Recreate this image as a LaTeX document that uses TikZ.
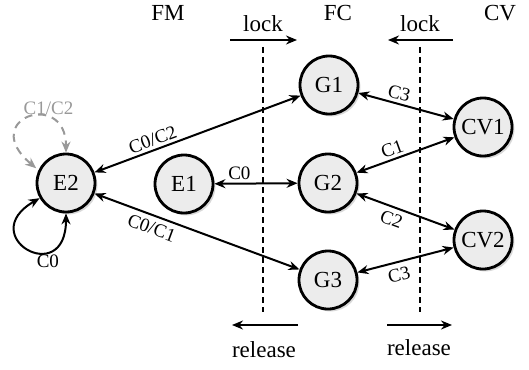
\documentclass[tikz,border=0pt]{standalone}
\usepackage{fontspec}
\setmainfont{Liberation Serif}
\usetikzlibrary{arrows.meta,shadows}
\begin{document}
\begin{tikzpicture}[x=0.5pt,y=-0.5pt,
  >={Stealth[length=5.5pt,width=4.5pt]},
  st/.style={circle, draw, line width=1.4pt, fill=gray!15, minimum size=29pt, inner sep=0pt,
    font=\fontsize{11.5}{13}\selectfont,
    drop shadow={shadow xshift=1.2pt, shadow yshift=-1.2pt, fill=black!30}},
  tr/.style={line width=1pt, <->},
  lab/.style={font=\fontsize{9.5}{11}\selectfont, inner sep=1.5pt},
  hd/.style={font=\fontsize{11.5}{13}\selectfont, inner sep=0pt},
  sep/.style={line width=1pt, dash pattern=on 3pt off 2pt}]
\useasboundingbox (0,0) rectangle (529,369);
\node[hd] (FM) at (168,13) {FM};
\node[hd] (FC) at (338,13) {FC};
\node[hd] (CV) at (500,13) {CV};
\node[hd] (lk1) at (263,24) {lock};
\node[hd] (lk2) at (420,24) {lock};
\node[hd] (rl1) at (264,350) {release};
\node[hd] (rl2) at (419,348) {release};
\coordinate (la1) at (230,40);
\coordinate (la2) at (297,40);
\coordinate (lb1) at (453,40);
\coordinate (lb2) at (388,40);
\coordinate (ra1) at (298,325);
\coordinate (ra2) at (232,325);
\coordinate (rb1) at (387,325);
\coordinate (rb2) at (452,325);
\coordinate (d1a) at (263,47);
\coordinate (d1b) at (263,312);
\coordinate (d2a) at (420,47);
\coordinate (d2b) at (420,312);
\draw[line width=1pt, ->] (la1) -- (la2);
\draw[line width=1pt, ->] (lb1) -- (lb2);
\draw[line width=1pt, ->] (ra1) -- (ra2);
\draw[line width=1pt, ->] (rb1) -- (rb2);
\draw[sep] (d1a) -- (d1b);
\draw[sep] (d2a) -- (d2b);
\node[st] (E2) at (66,183) {E2};
\node[st] (E1) at (184,184) {E1};
\node[st] (G1) at (329,85) {G1};
\node[st] (G2) at (328,183) {G2};
\node[st] (G3) at (328,280) {G3};
\node[st] (CV1) at (483,127) {CV1};
\node[st] (CV2) at (483,240) {CV2};
\draw[tr] (E2) -- node[lab, sloped, above, pos=0.3] {C0/C2} (G1);
\draw[tr] (E2) -- node[lab, sloped, below, pos=0.3, inner sep=2.5pt] {C0/C1} (G3);
\draw[tr] (E1) -- node[lab, above, pos=0.3] {C0} (G2);
\draw[tr] (G1) -- node[lab, sloped, above, pos=0.4] {C3} (CV1);
\draw[tr] (G2) -- node[lab, sloped, above, pos=0.4] {C1} (CV1);
\draw[tr] (G2) -- node[lab, sloped, below, pos=0.4, inner sep=2.5pt] {C2} (CV2);
\draw[tr] (G3) -- node[lab, sloped, below, pos=0.4, inner sep=2.5pt] {C3} (CV2);
\draw[tr] (E2.210) .. controls +(210:38pt) and +(270:38pt) .. node[lab, below, pos=0.7] {C0} (E2.270);
\draw[tr, gray!80, dash pattern=on 4pt off 3pt, shorten <=1.5pt] (E2.155) .. controls +(140:40pt) and +(90:32pt) .. node[lab, above, pos=0.7] {C1/C2} (E2.90);
\end{tikzpicture}
\end{document}
